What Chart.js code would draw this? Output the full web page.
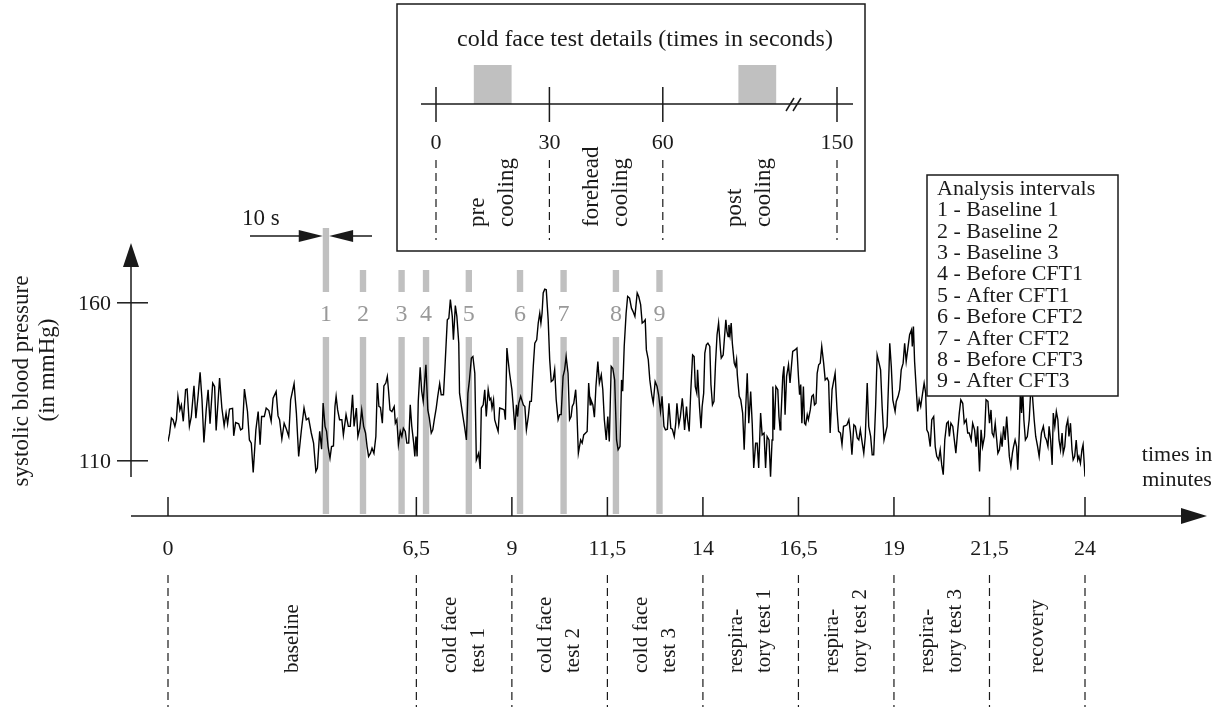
<!DOCTYPE html>
<html>
<head>
<meta charset="utf-8">
<title>Systolic blood pressure during the protocol</title>
<script src="https://cdn.jsdelivr.net/npm/chart.js@4"></script>
<style>
  html, body { margin: 0; padding: 0; background: #fff; }
  canvas { display: block; }
</style>
</head>
<body>
<canvas id="bpChart" width="1222" height="707"></canvas>
<script>
// Systolic blood pressure (mmHg) against time (minutes)
const sampleTimes = [
  0.00, 0.04, 0.09, 0.13, 0.18, 0.22, 0.26, 0.31, 0.35, 0.40, 0.46, 0.50, 0.56, 0.61, 0.68, 0.73, 0.79, 0.84, 0.89, 0.94,
  1.00, 1.05, 1.10, 1.17, 1.22, 1.26, 1.35, 1.41, 1.47, 1.52, 1.56, 1.61, 1.69, 1.72, 1.77, 1.85, 1.90, 1.95, 2.00, 2.08,
  2.13, 2.18, 2.23, 2.30, 2.36, 2.41, 2.45, 2.52, 2.57, 2.64, 2.70, 2.75, 2.83, 2.88, 2.92, 2.98, 3.04, 3.10, 3.16, 3.21,
  3.30, 3.36, 3.42, 3.49, 3.56, 3.62, 3.68, 3.75, 3.81, 3.87, 3.91, 3.97, 4.02,
  4.06, 4.11, 4.15, 4.19, 4.24, 4.28, 4.33, 4.37, 4.40, 4.44, 4.49, 4.55, 4.59, 4.66, 4.72, 4.77, 4.83, 4.87, 4.93, 4.97,
  5.02, 5.07, 5.12, 5.17, 5.21, 5.25, 5.30, 5.34, 5.39, 5.44, 5.48, 5.52, 5.56, 5.61, 5.65, 5.70, 5.74, 5.77, 5.81, 5.86,
  5.92, 5.95, 5.99, 6.03, 6.08, 6.12, 6.16, 6.21, 6.25, 6.30, 6.34, 6.38, 6.43, 6.46, 6.49, 6.52, 6.55, 6.60, 6.64, 6.68,
  6.72, 6.75, 6.80, 6.84, 6.89, 6.93, 6.97, 7.02, 7.06, 7.11, 7.15, 7.21, 7.25, 7.31, 7.35, 7.39, 7.44, 7.47, 7.52, 7.56,
  7.61, 7.63, 7.68, 7.72, 7.76, 7.81, 7.85, 7.89, 7.94, 7.98, 8.03, 8.07,
  8.13, 8.17, 8.20, 8.25, 8.29, 8.33, 8.38, 8.42, 8.45, 8.48, 8.52, 8.55, 8.60, 8.64, 8.68, 8.75, 8.80, 8.83, 8.87, 8.90,
  8.94, 9.00, 9.03, 9.08, 9.12, 9.15, 9.18, 9.23, 9.30, 9.34, 9.38, 9.43, 9.47, 9.51, 9.56, 9.60, 9.65, 9.69, 9.73, 9.76,
  9.79, 9.82, 9.86, 9.90, 9.95, 9.99, 10.03, 10.08, 10.12, 10.16, 10.21, 10.25, 10.29, 10.34, 10.38, 10.42, 10.47, 10.51, 10.55, 10.58,
  10.62, 10.67, 10.70, 10.74, 10.80, 10.84, 10.88, 10.93, 10.97, 11.01, 11.05, 11.07, 11.12, 11.16, 11.20, 11.25, 11.29, 11.34, 11.38, 11.42,
  11.47, 11.51, 11.55, 11.60, 11.64, 11.69, 11.74, 11.78, 11.83, 11.87, 11.90, 11.94, 11.99, 12.03, 12.08, 12.13, 12.17, 12.22,
  12.28, 12.32, 12.37, 12.41, 12.46, 12.49, 12.52, 12.57, 12.61, 12.66, 12.70, 12.75, 12.80, 12.84, 12.89, 12.93, 12.98, 13.02, 13.07, 13.11,
  13.16, 13.20, 13.25, 13.29, 13.32, 13.37, 13.41, 13.46, 13.48, 13.52, 13.57, 13.60, 13.64, 13.68, 13.73, 13.77, 13.80, 13.84, 13.86, 13.91,
  13.95, 13.98, 14.02, 14.05, 14.09, 14.13, 14.18, 14.21, 14.25, 14.29, 14.33, 14.37, 14.41, 14.46, 14.48, 14.53, 14.56, 14.60, 14.63, 14.66,
  14.68, 14.71, 14.74, 14.77, 14.82, 14.85, 14.88, 14.90, 14.95, 14.99, 15.04, 15.08, 15.12, 15.16, 15.20, 15.25, 15.29, 15.33, 15.38, 15.42,
  15.46, 15.51, 15.55, 15.60, 15.64, 15.68, 15.73, 15.77, 15.81, 15.83, 15.87, 15.91, 15.96, 15.99, 16.02, 16.04, 16.09, 16.12, 16.15, 16.19,
  16.24, 16.28, 16.32, 16.35,
  16.41, 16.46, 16.50, 16.53, 16.56, 16.59, 16.63, 16.66, 16.69, 16.73, 16.76, 16.81, 16.85, 16.89, 16.92, 16.96, 16.99, 17.03, 17.07, 17.11,
  17.16, 17.20, 17.25, 17.29, 17.33, 17.38, 17.42, 17.46, 17.51, 17.55, 17.60, 17.64, 17.68, 17.73, 17.77, 17.82, 17.86, 17.90, 17.95, 17.99,
  18.04, 18.08, 18.12, 18.17, 18.21, 18.25, 18.30, 18.34, 18.39, 18.43, 18.47, 18.52, 18.56, 18.61, 18.65, 18.69, 18.74, 18.78, 18.82, 18.87,
  18.89, 18.93, 18.97, 19.03, 19.06, 19.11, 19.15, 19.19, 19.24, 19.28, 19.32, 19.37, 19.41, 19.46, 19.48, 19.51, 19.54, 19.59, 19.62, 19.66,
  19.70, 19.75, 19.79, 19.83, 19.86, 19.90, 19.95, 19.99, 20.04, 20.08, 20.12, 20.17, 20.21, 20.25, 20.29, 20.33, 20.38, 20.42,
  20.45, 20.49, 20.54, 20.58, 20.62, 20.67, 20.71, 20.75, 20.80, 20.84, 20.89, 20.93, 20.97, 21.02, 21.06, 21.11, 21.15, 21.19, 21.24, 21.28,
  21.32, 21.37, 21.41, 21.46, 21.50, 21.54, 21.57, 21.61, 21.65, 21.69, 21.72, 21.76, 21.80, 21.83, 21.87, 21.91, 21.95, 21.98, 22.02, 22.06,
  22.10, 22.13, 22.17, 22.21, 22.24, 22.28, 22.31, 22.34, 22.37, 22.40, 22.44, 22.49, 22.54, 22.58, 22.62, 22.67, 22.71, 22.76, 22.80, 22.86,
  22.91, 22.95, 22.99, 23.03, 23.06, 23.10, 23.14, 23.17, 23.21, 23.25, 23.29, 23.32, 23.36, 23.40, 23.43, 23.47, 23.51, 23.55, 23.58, 23.62,
  23.66, 23.69, 23.73, 23.77, 23.81, 23.84, 23.88, 23.92, 23.95, 24.00
];
const systolic = [
  116.1, 118.5, 123.5, 123.0, 120.9, 123.0, 130.4, 126.1, 127.7, 122.5, 132.5, 132.7, 120.9, 124.0, 133.7, 123.5, 130.9, 138.0, 129.3, 115.8,
  126.1, 132.5, 121.7, 134.6, 133.5, 119.6, 136.2, 126.7, 121.1, 125.1, 121.7, 126.4, 126.6, 117.9, 122.1, 121.7, 119.8, 120.2, 132.7, 125.6,
  116.6, 115.6, 106.3, 119.8, 125.6, 115.1, 124.0, 124.0, 126.7, 125.9, 122.5, 129.8, 131.9, 124.2, 123.0, 116.9, 121.9, 120.0, 117.7, 129.3,
  134.4, 125.1, 111.4, 119.6, 126.7, 123.0, 123.5, 118.8, 115.6, 106.6, 107.7, 119.3, 113.7,
  128.3, 120.9, 119.3, 114.5, 110.8, 114.5, 114.7, 127.2, 130.4, 126.1, 123.0, 123.0, 118.2, 124.6, 120.9, 120.9, 130.9, 120.9, 126.7, 117.7,
  120.3, 126.1, 120.9, 118.8, 114.5, 111.4, 112.4, 114.0, 112.4, 117.7, 134.6, 127.2, 126.9, 121.9, 133.7, 134.6, 136.7, 132.5, 126.1, 125.6,
  127.2, 121.9, 123.0, 115.1, 119.3, 117.7, 120.3, 119.3, 115.6, 115.6, 127.7, 120.9, 115.6, 111.4, 117.7, 111.4, 128.8, 139.6, 132.0, 128.8,
  135.6, 140.4, 126.1, 123.5, 118.8, 119.8, 123.0, 126.7, 130.4, 134.4, 130.9, 130.9, 139.9, 154.6, 155.1, 161.0, 155.7, 148.3, 159.1, 155.7,
  147.2, 131.4, 127.2, 124.0, 120.9, 116.6, 131.4, 135.6, 142.5, 143.0, 137.7, 110.3,
  112.4, 107.4, 126.7, 127.7, 132.5, 124.0, 132.5, 129.3, 129.8, 126.7, 129.3, 123.0, 120.9, 119.3, 126.7, 126.4, 126.1, 123.0, 145.7, 142.0,
  137.7, 132.5, 128.2, 119.8, 127.7, 124.0, 128.2, 130.4, 127.7, 127.2, 119.8, 124.0, 128.8, 128.8, 139.9, 147.2, 148.3, 153.6, 156.7, 153.6,
  156.7, 163.1, 164.3, 164.1, 154.6, 142.0, 135.1, 135.6, 138.8, 129.3, 123.0, 124.6, 124.6, 136.7, 138.8, 143.0, 137.7, 123.0, 124.0, 127.2,
  128.2, 132.5, 126.1, 112.4, 116.6, 115.6, 118.2, 118.8, 119.3, 134.6, 127.7, 129.3, 127.7, 123.8, 133.5, 141.4, 134.6, 137.2, 132.5, 123.0,
  116.6, 124.0, 116.1, 139.9, 139.3, 135.6, 116.6, 113.5, 114.5, 135.6, 132.0, 146.2, 156.7, 162.0, 161.5, 158.3, 157.3, 155.7,
  163.1, 162.0, 159.4, 153.6, 154.1, 154.6, 145.1, 142.0, 135.6, 130.9, 128.3, 135.1, 133.5, 130.9, 125.6, 130.4, 120.9, 119.8, 120.0, 128.2,
  120.3, 120.0, 117.7, 121.9, 128.2, 121.4, 124.0, 129.8, 127.2, 119.8, 127.2, 123.0, 119.3, 131.4, 143.5, 143.0, 133.5, 131.4, 138.8, 127.2,
  120.3, 127.2, 131.4, 144.1, 146.7, 147.2, 146.2, 134.1, 127.7, 128.8, 140.9, 149.9, 153.6, 145.1, 142.5, 143.5, 148.3, 154.6, 150.9, 149.3,
  153.0, 149.9, 153.6, 147.2, 140.9, 139.9, 142.0, 137.2, 130.4, 129.3, 125.1, 113.5, 126.7, 137.7, 121.9, 131.9, 121.9, 107.7, 115.6, 115.6,
  107.7, 125.1, 118.2, 118.8, 107.7, 117.7, 116.6, 105.0, 116.6, 133.5, 119.8, 133.5, 132.5, 124.0, 119.8, 123.0, 136.7, 139.9, 124.6, 136.7,
  140.4, 134.6, 140.4, 144.6,
  145.1, 145.7, 136.7, 130.9, 134.1, 121.9, 133.5, 121.9, 121.4, 124.6, 123.0, 126.1, 130.4, 130.9, 127.7, 128.2, 137.7, 140.4, 140.9, 146.2,
  140.9, 135.6, 136.2, 135.1, 118.8, 132.5, 135.1, 137.7, 126.1, 119.3, 118.8, 115.1, 120.9, 121.1, 121.4, 123.0, 118.8, 111.9, 121.4, 120.9,
  117.2, 116.6, 119.8, 115.6, 112.4, 117.7, 134.6, 120.9, 117.7, 111.9, 111.9, 127.2, 143.5, 140.9, 138.8, 127.2, 116.6, 118.8, 120.9, 138.8,
  147.2, 139.9, 129.3, 125.6, 128.8, 130.4, 132.5, 138.8, 140.9, 147.2, 141.4, 146.2, 149.9, 151.5, 146.2, 152.5, 141.4, 131.4, 125.6, 129.3,
  127.2, 131.4, 134.6, 131.4, 119.8, 118.8, 114.5, 123.0, 124.0, 114.5, 111.4, 110.3, 113.5, 108.7, 105.6, 116.6, 121.9, 122.4,
  117.7, 121.9, 120.9, 116.6, 112.4, 119.8, 125.1, 129.3, 128.2, 121.9, 123.0, 118.8, 118.8, 116.6, 121.9, 119.8, 114.5, 120.9, 106.6, 119.8,
  114.5, 117.7, 129.3, 128.8, 121.9, 126.1, 118.8, 117.7, 121.9, 116.6, 112.4, 113.5, 117.7, 114.5, 120.9, 116.6, 124.0, 118.8, 111.4, 108.2,
  112.4, 114.5, 116.6, 114.5, 107.2, 118.8, 132.5, 125.1, 132.5, 123.0, 116.6, 117.7, 123.0, 132.5, 131.4, 123.0, 117.7, 114.5, 111.4, 118.8,
  120.9, 117.7, 116.6, 114.5, 120.9, 116.6, 108.7, 125.1, 120.9, 125.6, 123.0, 116.6, 113.5, 118.8, 112.4, 114.5, 120.9, 123.0, 117.7, 121.9,
  113.5, 110.3, 111.4, 116.6, 110.3, 111.4, 109.2, 113.5, 115.1, 105.0
];

// Axes
const xTickValues = [0, 6.5, 9, 11.5, 14, 16.5, 19, 21.5, 24];
const xTickLabels = ['0', '6,5', '9', '11,5', '14', '16,5', '19', '21,5', '24'];
const yTickValues = [110, 160];
const phaseLabels = [
  ['baseline'],
  ['cold face', 'test 1'],
  ['cold face', 'test 2'],
  ['cold face', 'test 3'],
  ['respira-', 'tory test 1'],
  ['respira-', 'tory test 2'],
  ['respira-', 'tory test 3'],
  ['recovery']
];

// Analysis intervals (start in minutes, each 10 s long)
const intervalStarts = [4.05, 5.02, 6.03, 6.67, 7.79, 9.13, 10.27, 11.64, 12.78];
const intervalLength = 10 / 60;
const intervalNames = [
  'Baseline 1', 'Baseline 2', 'Baseline 3',
  'Before CFT1', 'After CFT1', 'Before CFT2',
  'After CFT2', 'Before CFT3', 'After CFT3'
];

// Cold face test detail (seconds)
const insetTicks = [0, 30, 60, 150];
const coolingWindows = [[10, 20], [80, 90]];
const insetPhases = [['pre', 'cooling'], ['forehead', 'cooling'], ['post', 'cooling']];

const SERIF = '"Liberation Serif", "Times New Roman", serif';
const INK = '#1a1a1a';

function font(size) { return size + 'px ' + SERIF; }

function arrowHead(ctx, tipX, tipY, dir, len, half) {
  ctx.beginPath();
  ctx.moveTo(tipX, tipY);
  if (dir === 'up') {
    ctx.lineTo(tipX - half, tipY + len);
    ctx.lineTo(tipX + half, tipY + len);
  } else if (dir === 'right') {
    ctx.lineTo(tipX - len, tipY - half);
    ctx.lineTo(tipX - len, tipY + half);
  } else {
    ctx.lineTo(tipX + len, tipY - half);
    ctx.lineTo(tipX + len, tipY + half);
  }
  ctx.closePath();
  ctx.fill();
}

function line(ctx, x0, y0, x1, y1) {
  ctx.beginPath();
  ctx.moveTo(x0, y0);
  ctx.lineTo(x1, y1);
  ctx.stroke();
}

// rotated text columns reading bottom to top, starting at yStart
function verticalLines(ctx, lines, cx, yStart, gap) {
  const n = lines.length;
  lines.forEach((s, i) => {
    ctx.save();
    ctx.translate(cx + (i - (n - 1) / 2) * gap, yStart);
    ctx.rotate(-Math.PI / 2);
    ctx.textAlign = 'left';
    ctx.textBaseline = 'middle';
    ctx.fillText(s, 0, 0);
    ctx.restore();
  });
}

// position inside the cold face test box, axis broken after ~100 s
function insetX(s) {
  return s <= 100 ? 436 + s * 3.78 : 837 - (150 - s) * 0.74;
}

const diagram = {
  id: 'diagram',
  beforeDatasetsDraw(chart) {
    const { ctx, scales: { x } } = chart;
    ctx.save();
    ctx.fillStyle = '#c0c0c0';
    intervalStarts.forEach((s, i) => {
      const x0 = x.getPixelForValue(s);
      const w = x.getPixelForValue(s + intervalLength) - x0;
      const top = i === 0 ? 228 : 270;
      ctx.fillRect(x0, top, w, 292 - top);
      ctx.fillRect(x0, 337, w, 514 - 337);
    });
    ctx.restore();
  },
  afterDraw(chart) {
    const { ctx, scales: { x, y } } = chart;
    ctx.save();
    ctx.strokeStyle = INK;
    ctx.fillStyle = INK;
    ctx.lineWidth = 1.5;

    // y axis with arrow
    line(ctx, 131, 477, 131, 262);
    arrowHead(ctx, 131, 243, 'up', 24, 8);
    ctx.font = font(22);
    ctx.textAlign = 'right';
    ctx.textBaseline = 'middle';
    yTickValues.forEach(v => {
      const py = y.getPixelForValue(v);
      line(ctx, 117, py, 148, py);
      ctx.fillText(String(v), 111, py + 1);
    });
    ctx.font = font(23);
    ctx.save();
    ctx.translate(22, 381);
    ctx.rotate(-Math.PI / 2);
    ctx.textAlign = 'center';
    ctx.fillText('systolic blood pressure', 0, 0);
    ctx.restore();
    ctx.save();
    ctx.translate(48, 370);
    ctx.rotate(-Math.PI / 2);
    ctx.textAlign = 'center';
    ctx.fillText('(in mmHg)', 0, 0);
    ctx.restore();

    // x axis with arrow
    line(ctx, 131, 516, 1184, 516);
    arrowHead(ctx, 1207, 516, 'right', 26, 8);
    ctx.font = font(22);
    ctx.textAlign = 'center';
    ctx.fillText('times in', 1177, 455);
    ctx.fillText('minutes', 1177, 480);

    xTickValues.forEach((v, i) => {
      const px = x.getPixelForValue(v);
      line(ctx, px, 497, px, 516);
      ctx.fillText(xTickLabels[i], px, 549);
    });

    ctx.save();
    ctx.lineWidth = 1.2;
    ctx.setLineDash([8, 5]);
    xTickValues.forEach(v => {
      const px = x.getPixelForValue(v);
      line(ctx, px, 575, px, 707);
    });
    ctx.restore();

    ctx.font = font(21);
    phaseLabels.forEach((lines, i) => {
      const cx = (x.getPixelForValue(xTickValues[i]) + x.getPixelForValue(xTickValues[i + 1])) / 2;
      verticalLines(ctx, lines, cx, 673, 28);
    });

    // 10 s marker on the first interval
    const b0 = x.getPixelForValue(intervalStarts[0]);
    const b1 = x.getPixelForValue(intervalStarts[0] + intervalLength);
    line(ctx, 250, 236, b0 - 20, 236);
    arrowHead(ctx, b0, 236, 'right', 24, 6);
    line(ctx, b1 + 20, 236, 372, 236);
    arrowHead(ctx, b1, 236, 'left', 24, 6);
    ctx.font = font(23);
    ctx.textAlign = 'left';
    ctx.fillText('10 s', 242, 219);

    // interval numbers
    ctx.fillStyle = '#999';
    ctx.font = font(24);
    ctx.textAlign = 'center';
    intervalStarts.forEach((s, i) => {
      const cx = x.getPixelForValue(s + intervalLength / 2);
      ctx.fillText(String(i + 1), cx, 315);
    });
    ctx.fillStyle = INK;

    // cold face test details box
    ctx.fillStyle = '#fff';
    ctx.fillRect(397, 4, 468, 247);
    ctx.strokeRect(397, 4, 468, 247);
    ctx.fillStyle = INK;
    ctx.font = font(24);
    ctx.textAlign = 'center';
    ctx.fillText('cold face test details (times in seconds)', 645, 40);

    ctx.fillStyle = '#c0c0c0';
    coolingWindows.forEach(([a, b]) => {
      ctx.fillRect(insetX(a), 65, insetX(b) - insetX(a), 39);
    });
    ctx.fillStyle = INK;
    line(ctx, 421, 104, 853, 104);
    line(ctx, 786, 111, 794, 98);
    line(ctx, 793, 111, 801, 98);
    ctx.font = font(22);
    insetTicks.forEach(s => {
      const px = insetX(s);
      line(ctx, px, 87, px, 122);
      ctx.fillText(String(s), px, 143);
    });
    ctx.save();
    ctx.lineWidth = 1.2;
    ctx.setLineDash([8, 5]);
    insetTicks.forEach(s => {
      const px = insetX(s);
      line(ctx, px, 160, px, 240);
    });
    ctx.restore();
    ctx.font = font(23);
    insetPhases.forEach((lines, i) => {
      const cx = (insetX(insetTicks[i]) + insetX(insetTicks[i + 1])) / 2;
      verticalLines(ctx, lines, cx, 227, 29);
    });

    // analysis interval legend
    ctx.fillStyle = '#fff';
    ctx.fillRect(927, 175, 191, 221);
    ctx.strokeRect(927, 175, 191, 221);
    ctx.fillStyle = INK;
    ctx.font = font(22);
    ctx.textAlign = 'left';
    ctx.textBaseline = 'middle';
    ctx.fillText('Analysis intervals', 937, 189);
    intervalNames.forEach((name, i) => {
      ctx.fillText((i + 1) + ' - ' + name, 937, 189 + (i + 1) * 21.4);
    });

    ctx.restore();
  }
};

const points = sampleTimes.map((t, i) => ({ x: t, y: systolic[i] }));

new Chart(document.getElementById('bpChart').getContext('2d'), {
  type: 'line',
  data: {
    datasets: [{
      label: 'systolic blood pressure',
      data: points,
      borderColor: '#000',
      borderWidth: 1.4,
      pointRadius: 0,
      tension: 0,
      fill: false
    }]
  },
  options: {
    responsive: false,
    animation: false,
    events: [],
    layout: { padding: { left: 168, right: 137, top: 208, bottom: 183 } },
    plugins: {
      legend: { display: false },
      tooltip: { enabled: false }
    },
    scales: {
      x: { type: 'linear', min: 0, max: 24, display: false },
      y: { min: 90, max: 190, display: false }
    }
  },
  plugins: [diagram]
});
</script>
</body>
</html>
